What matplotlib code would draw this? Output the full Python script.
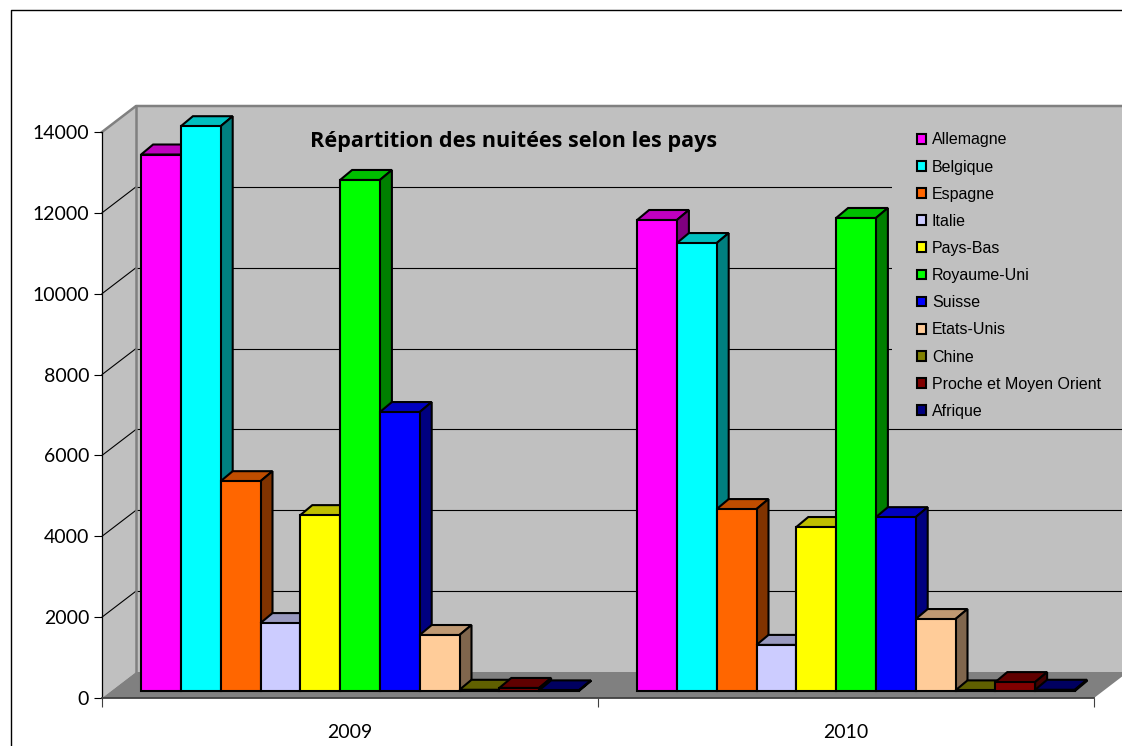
import matplotlib
matplotlib.use('Agg')
import matplotlib.pyplot as plt
from matplotlib.lines import Line2D
from matplotlib.patches import Patch, Rectangle

years = ['2009', '2010']
pays = ['Allemagne', 'Belgique', 'Espagne', 'Italie', 'Pays-Bas', 'Royaume-Uni', 'Suisse',
        'Etats-Unis', 'Chine', 'Proche et Moyen Orient', 'Afrique']
nuitees_2009 = [13270, 13970, 5190, 1680, 4350, 12640, 6900, 1385, 30, 75, 15]
nuitees_2010 = [11650, 11080, 4500, 1140, 4056, 11700, 4300, 1780, 15, 220, 30]
couleurs = ['#FF00FF', '#00FFFF', '#FF6600', '#CCCCFF', '#FFFF00', '#00FF00', '#0000FF',
            '#FFCC99', '#808000', '#800000', '#000080']
y_ticks = [0, 2000, 4000, 6000, 8000, 10000, 12000, 14000]

W, H = 1122, 746
X0, X1 = 102, 1094   # pixels of the value axis / end of the category axis
Y0, Y1 = 698, 132

fig = plt.figure(figsize=(W / 100, H / 100), dpi=100)
ax = fig.add_axes([X0 / W, 1 - Y0 / H, (X1 - X0) / W, (Y0 - Y1) / H])
ax.set_xlim(-0.5, 1.5)
ax.set_ylim(0, 14000)
ax.patch.set_visible(False)

# pixels to data units, the 3D look is only offsets
ux = 2 / (X1 - X0)
uy = 14000 / (Y0 - Y1)
wall_dx, wall_dy = 34 * ux, 26 * uy
front_dx, front_dy = 10 * ux, 7 * uy
depth_dx, depth_dy = 12 * ux, 10 * uy
bar_w = 39.8 * ux
right = 1.5 + 60 * ux

def darker(c, f):
    r, g, b = matplotlib.colors.to_rgb(c)
    return (r * f, g * f, b * f)

# walls and floor
ax.fill([-0.5 + wall_dx, right, right, -0.5 + wall_dx], [wall_dy, wall_dy, 14000 + wall_dy, 14000 + wall_dy],
        fc='#C0C0C0', ec='none', clip_on=False, zorder=0.5)
ax.fill([-0.5, -0.5 + wall_dx, -0.5 + wall_dx, -0.5], [0, wall_dy, 14000 + wall_dy, 14000],
        fc='#C0C0C0', ec='none', clip_on=False, zorder=0.5)
ax.fill([-0.5, -0.5 + wall_dx, 1.5 + wall_dx, 1.5], [0, wall_dy, wall_dy, 0],
        fc='#808080', ec='none', clip_on=False, zorder=0.6)

# gridlines on back and side wall
for t in y_ticks[1:-1]:
    ax.plot([-0.5 + wall_dx, right], [t + wall_dy, t + wall_dy], color='black', lw=0.8, clip_on=False, zorder=1)
    ax.plot([-0.5, -0.5 + wall_dx], [t, t + wall_dy], color='black', lw=0.8, clip_on=False, zorder=1)
ax.plot([-0.5, -0.5 + wall_dx, right], [14000, 14000 + wall_dy, 14000 + wall_dy], color='#808080', lw=1.8,
        clip_on=False, zorder=1.1)
ax.plot([-0.5 + wall_dx, -0.5 + wall_dx], [wall_dy, 14000 + wall_dy], color='#808080', lw=1.8, clip_on=False, zorder=1.1)

# legend background hides the gridlines
ax.add_patch(Rectangle((892 / W, 1 - 425 / H), 230 / W, 298 / H, transform=fig.transFigure,
                       fc='#C0C0C0', ec='none', clip_on=False, zorder=1.5))

# bars
for j, vals in enumerate([nuitees_2009, nuitees_2010]):
    x_start = j - 11 * bar_w / 2 + front_dx
    for i, v in enumerate(vals):
        z = 3 + i * 0.1
        xl = x_start + i * bar_w
        xr = xl + bar_w
        top = front_dy + v
        ax.fill([xl, xl + depth_dx, xr + depth_dx, xr], [top, top + depth_dy, top + depth_dy, top],
                fc=darker(couleurs[i], 0.75), ec='black', lw=1.5, clip_on=False, zorder=z)
        ax.fill([xr, xr + depth_dx, xr + depth_dx, xr],
                [front_dy, front_dy + depth_dy, top + depth_dy, top],
                fc=darker(couleurs[i], 0.5), ec='black', lw=1.5, clip_on=False, zorder=z)
        ax.bar(xl, v, width=bar_w, bottom=front_dy, align='edge', color=couleurs[i], edgecolor='black',
               linewidth=1.5, clip_on=False, zorder=z + 0.01)

# axes
for s in ['top', 'right']:
    ax.spines[s].set_visible(False)
ax.spines['left'].set_linewidth(0.9)
ax.spines['bottom'].set_linewidth(1.3)
ax.spines['bottom'].set_color('#404040')
ax.spines['left'].set_zorder(2)
ax.spines['bottom'].set_zorder(2)
ax.set_yticks(y_ticks)
ax.tick_params(axis='y', length=5.8, width=0.8, labelsize=14, pad=3.5)
for lab in ax.get_yticklabels():
    lab.set_fontfamily('Lato')
ax.set_xticks([-0.5, 0.5, 1.5], minor=True)
ax.set_xticks([0, 1])
ax.set_xticklabels(years, fontsize=14, fontfamily='Lato')
ax.tick_params(axis='x', which='major', length=0, pad=18.5)
ax.tick_params(axis='x', which='minor', length=6.5, width=0.8, color='#404040')

ax.text((514 - X0) / (X1 - X0), (Y0 - 141) / (Y0 - Y1), 'Répartition des nuitées selon les pays',
        transform=ax.transAxes, ha='center', va='center', fontsize=15.6, fontweight='bold',
        fontfamily='Open Sans', zorder=2)

handles = [Patch(facecolor=c, edgecolor='black', linewidth=1.5) for c in couleurs]
leg = ax.legend(handles, pays, loc='upper left', bbox_to_anchor=(911 / W, 1 - 126 / H),
                bbox_transform=fig.transFigure, frameon=False, borderaxespad=0, borderpad=0.4,
                prop={'family': 'Liberation Sans', 'size': 11.5}, labelspacing=0.76,
                handlelength=0.55, handleheight=0.55, handletextpad=0.36)
leg.set_zorder(6)

# chart frame
fig.add_artist(Line2D([11 / W, 11 / W, 1], [0, 1 - 10 / H, 1 - 10 / H], color='black', lw=1.0))

fig.savefig('out.png', dpi=100)
